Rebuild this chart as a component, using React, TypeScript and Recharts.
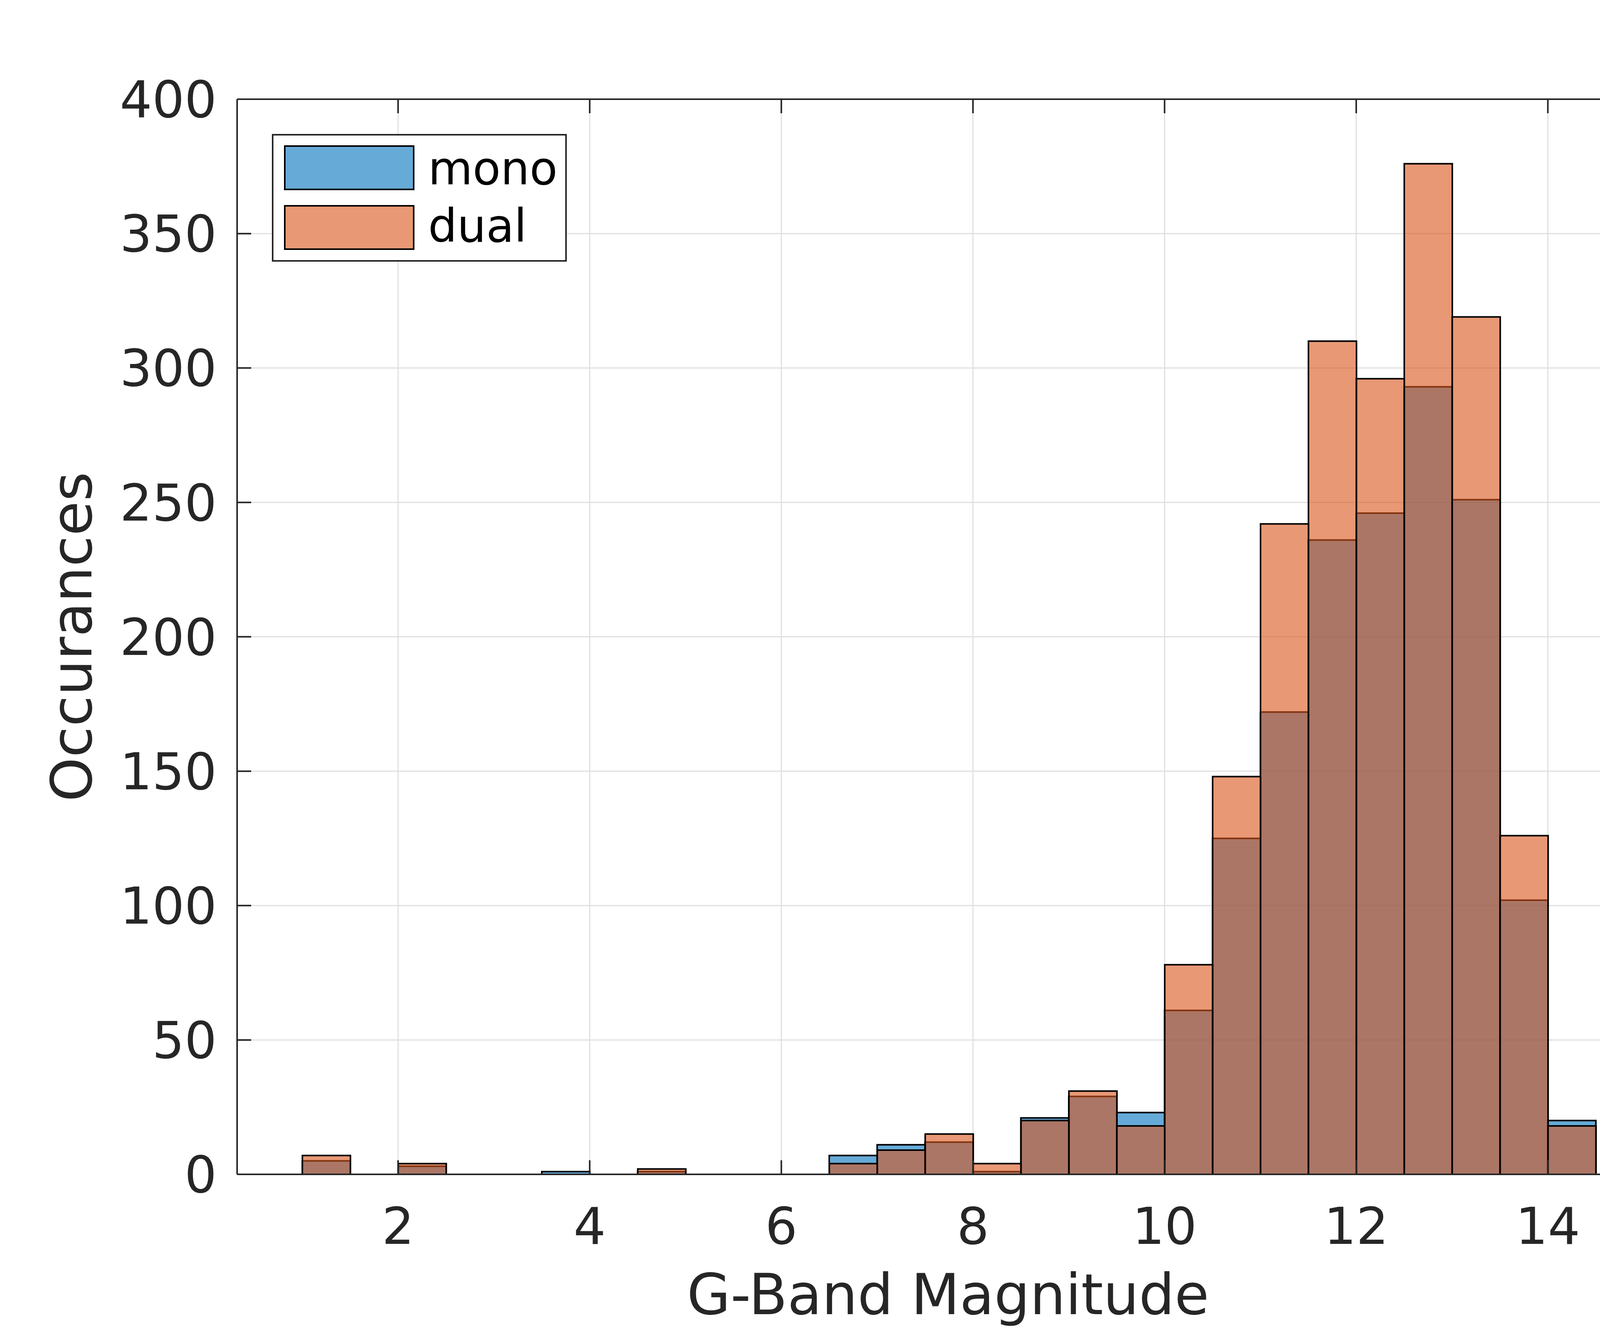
import React from 'react';
import { BarChart, Bar, XAxis, YAxis, CartesianGrid, Legend } from 'recharts';

// histogram bins (left edges), width 0.5
const binStarts = [
  1, 1.5, 2, 2.5, 3, 3.5, 4, 4.5, 5, 5.5, 6, 6.5, 7, 7.5, 8, 8.5, 9, 9.5, 10, 10.5, 11, 11.5, 12,
  12.5, 13, 13.5, 14,
];
const binWidth = 0.5;
const monoCounts = [
  5, 0, 3, 0, 0, 1, 0, 1, 0, 0, 0, 7, 11, 12, 1, 21, 29, 23, 61, 125, 172, 236, 246, 293, 251, 102, 20,
];
const dualCounts = [
  7, 0, 4, 0, 0, 0, 0, 2, 0, 0, 0, 4, 9, 15, 4, 20, 31, 18, 78, 148, 242, 310, 296, 376, 319, 126, 18,
];
const xTicks = [2, 4, 6, 8, 10, 12, 14];
const yTicks = [0, 50, 100, 150, 200, 250, 300, 350, 400];
const xDomain = [0.32, 15.16];
const yDomain = [0, 400];

const series = [
  { key: 'mono', color: '#0072BD' },
  { key: 'dual', color: '#D95319' },
];

const data = binStarts.map((start, i) => ({
  mid: start + binWidth / 2,
  mono: monoCounts[i],
  dual: dualCounts[i],
}));

const FONT = 'DejaVu Sans';
const AXIS_COLOR = '#262626';
const tickStyle = { fontSize: 130, fill: AXIS_COLOR, fontFamily: FONT };
const axisLine = { stroke: AXIS_COLOR, strokeWidth: 4 };
const noLabel = () => <g />;

// matlab-style histogram bar: translucent face, black edge.
// drawn as a path so that empty bins still leave their edge line on the baseline
const HistBar = (props: any) => {
  const { x, y, width, fill } = props;
  if (x == null || y == null || !width) return null;
  const h = Math.max(props.height || 0, 0);
  const d = `M${x},${y}h${width}v${h}h${-width}Z`;
  return <path d={d} fill={fill} fillOpacity={0.6} stroke="#000" strokeWidth={4} />;
};

const renderLegend = (props: any) => {
  const payload = props.payload || [];
  return (
    <svg width={755} height={327} style={{ display: 'block' }}>
      <rect x={2} y={2} width={751} height={323} fill="#fff" stroke={AXIS_COLOR} strokeWidth={4} />
      {series.map((s, i) => {
        const item = payload.find((p: any) => p.value === s.key);
        return (
          <g key={s.key}>
            <rect
              x={33}
              y={31 + i * 153}
              width={330}
              height={111}
              fill={item ? item.color : s.color}
              fillOpacity={0.6}
              stroke="#000"
              strokeWidth={4}
            />
            <text x={400} y={129 + i * 147} fontSize={117} fontFamily={FONT} fill="#000">
              {s.key}
            </text>
          </g>
        );
      })}
    </svg>
  );
};

export default function App() {
  return (
    <div style={{ position: 'absolute', left: 0, top: 0, width: 4701, height: 3403, background: '#fff' }}>
      <BarChart
        width={4701}
        height={3403}
        data={data}
        margin={{ top: 253, right: 453, bottom: 0, left: 0 }}
        barCategoryGap={0}
        barGap="-100%"
      >
        <CartesianGrid stroke="#e0e0e0" strokeWidth={3} />
        <XAxis
          dataKey="mid"
          type="number"
          domain={xDomain}
          allowDataOverflow
          ticks={xTicks}
          height={396}
          tick={tickStyle}
          tickSize={-36}
          tickMargin={122}
          tickLine={axisLine}
          axisLine={axisLine}
          label={{
            value: 'G-Band Magnitude',
            position: 'insideBottom',
            offset: 38,
            fontSize: 144,
            fill: AXIS_COLOR,
            fontFamily: FONT,
          }}
        />
        {/* box: top and right edges with inward ticks */}
        <XAxis
          xAxisId="top"
          dataKey="mid"
          orientation="top"
          type="number"
          domain={xDomain}
          allowDataOverflow
          ticks={xTicks}
          height={1}
          tick={noLabel}
          tickSize={-36}
          tickLine={axisLine}
          axisLine={axisLine}
        />
        <YAxis
          type="number"
          domain={yDomain}
          allowDataOverflow
          ticks={yTicks}
          width={607}
          tick={tickStyle}
          tickSize={-36}
          tickMargin={88}
          tickLine={axisLine}
          axisLine={axisLine}
          label={{
            value: 'Occurances',
            angle: -90,
            position: 'center',
            dx: -121,
            fontSize: 144,
            fill: AXIS_COLOR,
            fontFamily: FONT,
          }}
        />
        <YAxis
          yAxisId="right"
          orientation="right"
          type="number"
          domain={yDomain}
          allowDataOverflow
          ticks={yTicks}
          width={1}
          tick={noLabel}
          tickSize={-36}
          tickLine={axisLine}
          axisLine={axisLine}
        />
        <Legend
          content={renderLegend}
          layout="vertical"
          align="center"
          verticalAlign="middle"
          wrapperStyle={{ position: 'absolute', left: 696, top: 343, width: 755, height: 327, margin: 0 }}
        />
        {series.map((s) => (
          <Bar
            key={s.key}
            dataKey={s.key}
            name={s.key}
            fill={s.color}
            shape={<HistBar />}
            isAnimationActive={false}
          />
        ))}
      </BarChart>
    </div>
  );
}
